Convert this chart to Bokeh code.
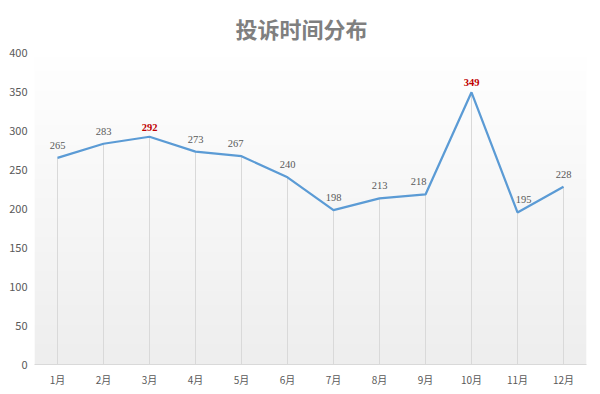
import numpy as np
from bokeh.plotting import figure
from bokeh.models import FactorRange, Range1d, SingleIntervalTicker, ColumnDataSource, LabelSet
from bokeh.embed import file_html
from bokeh.resources import INLINE

months = ["1月", "2月", "3月", "4月", "5月", "6月", "7月", "8月", "9月", "10月", "11月", "12月"]
counts = [265, 283, 292, 273, 267, 240, 198, 213, 218, 349, 195, 228]
highlight = ["3月", "10月"]
title_text = "投诉时间分布"

# styling: small horizontal nudges of some data labels (pixels), as in the original
label_nudge = {"5月": -6, "9月": -7, "11月": 6}

FONT = "Noto Sans CJK SC"
Y_MAX = 400

p = figure(frame_width=552, frame_height=312, x_range=FactorRange(*months, range_padding=0),
           y_range=Range1d(0, Y_MAX), output_backend="svg", toolbar_location=None,
           min_border_left=34, min_border_right=6, min_border_top=52, min_border_bottom=0)

p.title.text = title_text
p.title.align = "left"
p.title.offset = 201
p.title.standoff = 17
p.title.text_font = FONT
p.title.text_font_size = "22px"
p.title.text_color = "#7f7f7f"
p.title.text_font_style = "bold"

# gradient background for the plot area
n = 64
t = np.linspace(0, 1, n)
g = (0xEE + (0xFF - 0xEE) * t).astype(np.uint32)
img = np.empty((n, 1), dtype=np.uint32)
view = img.view(dtype=np.uint8).reshape((n, 1, 4))
view[:, 0, 0] = g
view[:, 0, 1] = g
view[:, 0, 2] = g
view[:, 0, 3] = 255
p.image_rgba(image=[img], x=0, y=0, dw=len(months), dh=Y_MAX)

p.outline_line_color = None
p.xgrid.grid_line_color = None
p.ygrid.grid_line_color = None

src = ColumnDataSource(dict(m=months, v=counts, zero=[0] * len(months),
                            lab=[str(c) if m not in highlight else "" for m, c in zip(months, counts)],
                            dx=[label_nudge.get(m, 0) for m in months]))
hsrc = ColumnDataSource(dict(m=[m for m in months if m in highlight],
                             v=[c for m, c in zip(months, counts) if m in highlight],
                             lab=[str(c) for m, c in zip(months, counts) if m in highlight]))

p.segment(x0="m", y0="zero", x1="m", y1="v", source=src, line_color="#d9d9d9", line_width=1)
p.line(x="m", y="v", source=src, line_color="#5b9bd5", line_width=2.25)

p.add_layout(LabelSet(x="m", y="v", text="lab", source=src, text_align="center",
                      text_baseline="bottom", y_offset=9, x_offset="dx", text_font_size="10.5px",
                      text_color="#595959", text_font=FONT))
p.add_layout(LabelSet(x="m", y="v", text="lab", source=hsrc, text_align="center",
                      text_baseline="bottom", y_offset=6, text_font_size="10.5px",
                      text_color="#c00000", text_font_style="bold", text_font=FONT))

p.yaxis.ticker = SingleIntervalTicker(interval=50)
p.yaxis.axis_line_color = None
p.yaxis.major_tick_line_color = None
p.yaxis.minor_tick_line_color = None
p.yaxis.major_tick_out = 0
p.yaxis.major_tick_in = 0
p.yaxis.minor_tick_out = 0
p.yaxis.major_label_text_font_size = "11px"
p.yaxis.major_label_text_color = "#595959"
p.yaxis.major_label_text_font = FONT
p.yaxis.major_label_standoff = 7

p.xaxis.axis_line_color = "#d9d9d9"
p.xaxis.major_tick_line_color = None
p.xaxis.minor_tick_line_color = None
p.xaxis.major_tick_out = 0
p.xaxis.major_tick_in = 0
p.xaxis.minor_tick_out = 0
p.xaxis.major_label_text_font_size = "10px"
p.xaxis.major_label_text_color = "#595959"
p.xaxis.major_label_text_font = FONT
p.xaxis.major_label_standoff = 7

open("out.html", "w").write(file_html(p, INLINE))
